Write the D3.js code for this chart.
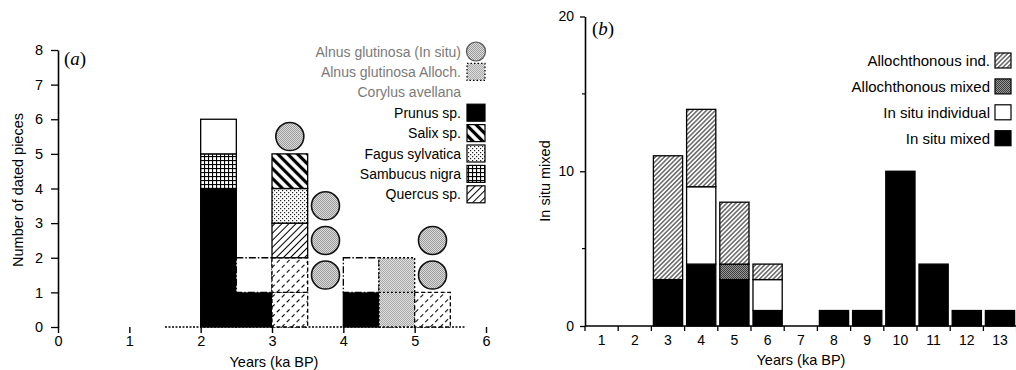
<!DOCTYPE html>
<html><head><meta charset="utf-8">
<script src="https://cdn.jsdelivr.net/npm/d3@7"></script>
<style>
body{margin:0;background:#fff;}
svg{display:block;font-family:"Liberation Sans",Arial,Helvetica,sans-serif;}
</style></head><body>
<svg id="chart" width="1016" height="370"></svg>
<script>
// ---------- Panel (a) data ----------
const binsA         = [2.0, 2.5, 3.0, 3.5, 4.0, 4.5, 5.0];
const prunus        = [4, 1, 0, 0, 1, 0, 0];
const sambucus      = [1, 0, 0, 0, 0, 0, 0];
const corylusInSitu = [1, 0, 0, 0, 0, 0, 0];
const quercusAlloch = [0, 0, 2, 0, 0, 0, 1];
const quercus       = [0, 0, 1, 0, 0, 0, 0];
const fagus         = [0, 0, 1, 0, 0, 0, 0];
const salix         = [0, 0, 1, 0, 0, 0, 0];
const corylusAlloch = [0, 1, 0, 0, 1, 0, 0];
const alnusAlloch   = [0, 0, 0, 0, 0, 2, 0];
const alnusInSituBin  = [3.0, 3.5, 3.5, 3.5, 5.0, 5.0];
const alnusInSituSlot = [5, 1, 2, 3, 1, 2];
const legendA = ["Alnus glutinosa (In situ)", "Alnus glutinosa Alloch.", "Corylus avellana",
                 "Prunus sp.", "Salix sp.", "Fagus sylvatica", "Sambucus nigra", "Quercus sp."];
const xTicksA = [0, 1, 2, 3, 4, 5, 6];
const yTicksA = [0, 1, 2, 3, 4, 5, 6, 7, 8];
const binWidthA = 0.5;

// ---------- Panel (b) data ----------
const yearsB           = [1, 2, 3, 4, 5, 6, 7, 8, 9, 10, 11, 12, 13];
const inSituMixed      = [0, 0, 3, 4, 3, 1, 0, 1, 1, 10, 4, 1, 1];
const inSituIndividual = [0, 0, 0, 5, 0, 2, 0, 0, 0, 0, 0, 0, 0];
const allochMixed      = [0, 0, 0, 0, 1, 0, 0, 0, 0, 0, 0, 0, 0];
const allochInd        = [0, 0, 8, 5, 4, 1, 0, 0, 0, 0, 0, 0, 0];
const legendB = ["Allochthonous ind.", "Allochthonous mixed", "In situ individual", "In situ mixed"];
const yTicksB = [0, 10, 20];
const yMinorB = [5, 15];

// ---------- setup ----------
const svg = d3.select("#chart");
const defs = svg.append("defs");

function stripes(id, size, width, angle, color, dash) {
  const p = defs.append("pattern").attr("id", id).attr("patternUnits", "userSpaceOnUse")
    .attr("width", size).attr("height", size).attr("patternTransform", `rotate(${angle})`);
  p.append("rect").attr("width", size).attr("height", size).attr("fill", "#fff");
  const l = p.append("line").attr("x1", size / 2).attr("x2", size / 2).attr("y1", 0).attr("y2", size)
    .attr("stroke", color).attr("stroke-width", width);
  if (dash) l.attr("stroke-dasharray", dash);
}
stripes("salix", 7, 3.2, -45, "#000");
stripes("quercus", 5, 1, 45, "#000");
stripes("quercusAl", 7, 1.1, 45, "#000", "4,3");
stripes("allInd", 3.2, 0.9, 45, "#000");

(function () {
  const p = defs.append("pattern").attr("id", "fagus").attr("patternUnits", "userSpaceOnUse").attr("width", 4).attr("height", 4);
  p.append("rect").attr("width", 4).attr("height", 4).attr("fill", "#fff");
  p.append("rect").attr("x", 0).attr("y", 0).attr("width", 1.2).attr("height", 1.2).attr("fill", "#222");
  p.append("rect").attr("x", 2).attr("y", 2).attr("width", 1.2).attr("height", 1.2).attr("fill", "#222");
})();
(function () {
  const p = defs.append("pattern").attr("id", "sambucus").attr("patternUnits", "userSpaceOnUse").attr("width", 4).attr("height", 4);
  p.append("rect").attr("width", 4).attr("height", 4).attr("fill", "#fff");
  p.append("rect").attr("x", 0).attr("y", 0).attr("width", 1.1).attr("height", 4).attr("fill", "#000");
  p.append("rect").attr("x", 0).attr("y", 0).attr("width", 4).attr("height", 1.1).attr("fill", "#000");
})();
function stipple(id, bg, dot) {
  const p = defs.append("pattern").attr("id", id).attr("patternUnits", "userSpaceOnUse").attr("width", 2).attr("height", 2);
  p.append("rect").attr("width", 2).attr("height", 2).attr("fill", bg);
  p.append("rect").attr("x", 0).attr("y", 0).attr("width", 1).attr("height", 1).attr("fill", dot);
  p.append("rect").attr("x", 1).attr("y", 1).attr("width", 1).attr("height", 1).attr("fill", dot);
}
stipple("alnus", "#dcdcdc", "#9a9a9a");
stipple("alnusAl", "#e0e0e0", "#a8a8a8");
stipple("allMix", "#9a9a9a", "#3a3a3a");

const FONT = "Liberation Sans, Arial, sans-serif";

// ================= PANEL (a) =================
const xA = d3.scaleLinear().domain([0, 6]).range([58, 486]);
const yA = d3.scaleLinear().domain([0, 8]).range([327, 50]);
const gA = svg.append("g");

const seriesA = [
  { key: "prunus", values: prunus, fill: "#000", dash: null },
  { key: "sambucus", values: sambucus, fill: "url(#sambucus)", dash: null },
  { key: "corylusInSitu", values: corylusInSitu, fill: "#fff", dash: null },
  { key: "quercusAlloch", values: quercusAlloch, fill: "url(#quercusAl)", dash: "4,2.5" },
  { key: "quercus", values: quercus, fill: "url(#quercus)", dash: null },
  { key: "fagus", values: fagus, fill: "url(#fagus)", dash: null },
  { key: "salix", values: salix, fill: "url(#salix)", dash: null },
  { key: "corylusAlloch", values: corylusAlloch, fill: "#fff", dash: "7,2,1.5,2" },
  { key: "alnusAlloch", values: alnusAlloch, fill: "url(#alnusAl)", dash: "2,2" }
];

// unit cells stacked per bin
const cellsA = [];
binsA.forEach((b, i) => {
  let base = 0;
  seriesA.forEach(s => {
    for (let k = 0; k < s.values[i]; k++) {
      cellsA.push({ bin: b, y0: base + k, y1: base + k + 1, s });
    }
    base += s.values[i];
  });
});

// dotted baseline
gA.append("line").attr("x1", xA(1.5)).attr("x2", xA(5.7)).attr("y1", yA(0)).attr("y2", yA(0))
  .attr("stroke", "#000").attr("stroke-width", 1.3).attr("stroke-dasharray", "2,1.5");

gA.selectAll("rect.cell").data(cellsA).join("rect").attr("class", "cell")
  .attr("x", d => xA(d.bin)).attr("width", d => xA(d.bin + binWidthA) - xA(d.bin))
  .attr("y", d => yA(d.y1)).attr("height", d => yA(d.y0) - yA(d.y1))
  .attr("fill", d => d.s.fill).attr("stroke", "#000").attr("stroke-width", 1.3)
  .attr("stroke-dasharray", d => d.s.dash);

// Alnus glutinosa in situ circles
const circA = alnusInSituBin.map((b, i) => ({ bin: b, slot: alnusInSituSlot[i] }));
gA.selectAll("circle.aln").data(circA).join("circle").attr("class", "aln")
  .attr("cx", d => xA(d.bin + binWidthA / 2)).attr("cy", d => yA(d.slot + 0.5))
  .attr("r", 14).attr("fill", "url(#alnus)").attr("stroke", "#111").attr("stroke-width", 1.6);

// axes
const yAxisA = gA.append("g").attr("transform", `translate(${xA(0)},0)`)
  .call(d3.axisLeft(yA).tickValues(yTicksA).tickFormat(d3.format("d")).tickSize(7).tickPadding(8).tickSizeOuter(0));
yAxisA.select(".domain").attr("stroke-width", 1.6);
yAxisA.selectAll(".tick line").attr("stroke-width", 1.3);
yAxisA.selectAll("text").attr("font-size", 14.5).attr("font-family", FONT);

const xAxisA = gA.append("g").attr("transform", `translate(0,${yA(0)})`)
  .call(d3.axisBottom(xA).tickValues(xTicksA).tickFormat(d3.format("d")).tickSize(6).tickPadding(3));
xAxisA.select(".domain").remove();
xAxisA.selectAll(".tick line").attr("stroke-width", 1.4);
xAxisA.selectAll("text").attr("font-size", 14.5).attr("font-family", FONT);

gA.append("text").attr("x", 274).attr("y", 367).attr("text-anchor", "middle")
  .attr("font-size", 14.5).text("Years (ka BP)");
gA.append("text").attr("transform", "translate(23,190) rotate(-90)").attr("text-anchor", "middle")
  .attr("font-size", 14.5).text("Number of dated pieces");
const labA = gA.append("text").attr("x", 64).attr("y", 65).attr("font-size", 19)
  .attr("font-family", "Liberation Serif, Times New Roman, serif");
labA.append("tspan").text("(");
labA.append("tspan").attr("font-style", "italic").text("a");
labA.append("tspan").text(")");

// legend (a)
const legAFills = ["url(#alnus)", "url(#alnusAl)", "#fff", "#000", "url(#salix)", "url(#fagus)", "url(#sambucus)", "url(#quercus)"];
const legAItems = legendA.map((t, i) => ({ t, i, fill: legAFills[i] }));
const legA = gA.append("g");
const rowA = i => 51.5 + 20.4 * i;
legA.selectAll("text").data(legAItems).join("text")
  .attr("x", 461).attr("y", d => rowA(d.i) + 5).attr("text-anchor", "end")
  .attr("font-size", 14).attr("fill", d => d.i < 3 ? "#7a7a7a" : "#000").text(d => d.t);
legA.selectAll("rect").data(legAItems.filter(d => d.i > 0)).join("rect")
  .attr("x", 467).attr("y", d => rowA(d.i) - 8.5).attr("width", 18).attr("height", 17)
  .attr("fill", d => d.fill)
  .attr("stroke", d => d.i === 2 ? "none" : "#000").attr("stroke-width", 1.2)
  .attr("stroke-dasharray", d => d.i === 1 ? "1.5,2" : null);
legA.append("circle").attr("cx", 476).attr("cy", rowA(0)).attr("r", 9.5)
  .attr("fill", "url(#alnus)").attr("stroke", "#555").attr("stroke-width", 1.2);

// ================= PANEL (b) =================
const x0B = 585, x1B = 1016.6;
const xB = d3.scaleBand().domain(yearsB).range([x0B, x1B]).paddingInner(0.12).paddingOuter(0.06);
const yB = d3.scaleLinear().domain([0, 20]).range([326, 16.5]);
const gB = svg.append("g");

// bottom to top: in situ mixed, alloch mixed, in situ individual, alloch ind.
const stackKeys = ["inSituMixed", "allochMixed", "inSituIndividual", "allochInd"];
const fillsB = { inSituMixed: "#000", allochMixed: "url(#allMix)", inSituIndividual: "#fff", allochInd: "url(#allInd)" };
const rowsB = yearsB.map((y, i) => ({
  year: y, inSituMixed: inSituMixed[i], allochMixed: allochMixed[i],
  inSituIndividual: inSituIndividual[i], allochInd: allochInd[i]
}));
const stackedB = d3.stack().keys(stackKeys)(rowsB);
gB.selectAll("g.layer").data(stackedB).join("g").attr("class", "layer")
  .attr("fill", d => fillsB[d.key])
  .selectAll("rect").data(d => d.filter(p => p[1] - p[0] > 0)).join("rect")
  .attr("x", d => xB(d.data.year)).attr("width", xB.bandwidth())
  .attr("y", d => yB(d[1])).attr("height", d => yB(d[0]) - yB(d[1]))
  .attr("stroke", "#000").attr("stroke-width", 1.3);

// x axis (b)
const xLinB = d3.scaleLinear().domain([0.5, 13.5]).range([x0B, x1B]);
gB.append("line").attr("x1", x0B).attr("x2", x1B).attr("y1", yB(0)).attr("y2", yB(0))
  .attr("stroke", "#000").attr("stroke-width", 1.4);
const bounds = d3.range(0.5, 14, 1);
gB.selectAll("line.bt").data(bounds).join("line").attr("class", "bt")
  .attr("x1", d => xLinB(d)).attr("x2", d => xLinB(d)).attr("y1", yB(0)).attr("y2", yB(0) + 5)
  .attr("stroke", "#000").attr("stroke-width", 1.3);
const xAxisB = gB.append("g").attr("transform", `translate(0,${yB(0)})`)
  .call(d3.axisBottom(xB).tickSize(0).tickPadding(9));
xAxisB.select(".domain").remove();
xAxisB.selectAll("text").attr("font-size", 14).attr("font-family", FONT);

const yAxisB = gB.append("g").attr("transform", `translate(${x0B},0)`)
  .call(d3.axisLeft(yB).tickValues(yTicksB).tickSize(5).tickPadding(6).tickSizeOuter(0));
yAxisB.select(".domain").attr("stroke-width", 1.6);
yAxisB.selectAll(".tick line").attr("stroke-width", 1.3);
yAxisB.selectAll("text").attr("font-size", 14).attr("font-family", FONT);
gB.selectAll("line.minor").data(yMinorB).join("line").attr("class", "minor")
  .attr("x1", x0B - 3).attr("x2", x0B).attr("y1", d => yB(d)).attr("y2", d => yB(d))
  .attr("stroke", "#000").attr("stroke-width", 1.2);

gB.append("text").attr("x", 801).attr("y", 365).attr("text-anchor", "middle")
  .attr("font-size", 14.5).text("Years (ka BP)");
gB.append("text").attr("transform", "translate(550,181) rotate(-90)").attr("text-anchor", "middle")
  .attr("font-size", 14.5).text("In situ mixed");
const labB = gB.append("text").attr("x", 592).attr("y", 35).attr("font-size", 19)
  .attr("font-family", "Liberation Serif, Times New Roman, serif");
labB.append("tspan").text("(");
labB.append("tspan").attr("font-style", "italic").text("b");
labB.append("tspan").text(")");

// legend (b)
const legBFills = ["url(#allInd)", "url(#allMix)", "#fff", "#000"];
const legBItems = legendB.map((t, i) => ({ t, i, fill: legBFills[i] }));
const rowB = i => 60.5 + 25.9 * i;
const legB = gB.append("g");
legB.selectAll("text").data(legBItems).join("text")
  .attr("x", 990).attr("y", d => rowB(d.i) + 5.5).attr("text-anchor", "end")
  .attr("font-size", 15).text(d => d.t);
legB.selectAll("rect").data(legBItems).join("rect")
  .attr("x", 995).attr("y", d => rowB(d.i) - 7.5).attr("width", 16).attr("height", 15)
  .attr("fill", d => d.fill).attr("stroke", "#000").attr("stroke-width", 1.2);
</script>
</body></html>
